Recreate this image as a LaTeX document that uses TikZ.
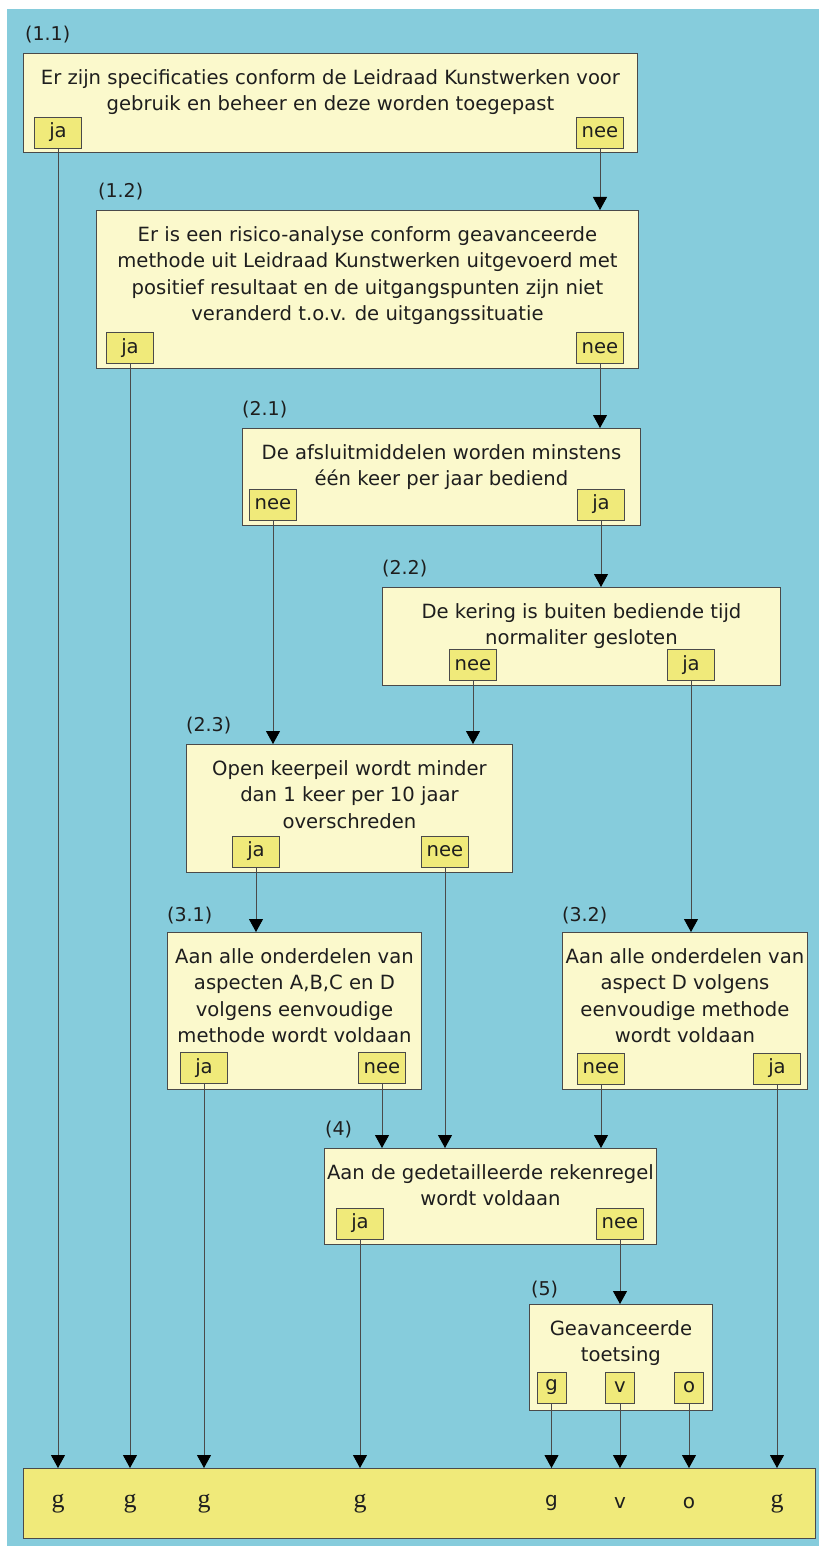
\documentclass[tikz,border=0pt]{standalone}
\usepackage{fontspec}
\setmainfont{DejaVu Sans}
\newfontfamily\serifletter{Liberation Serif}
\usetikzlibrary{arrows.meta,positioning}
\definecolor{achterkl}{HTML}{86CCDC}
\definecolor{vraagkl}{HTML}{FBF9CC}
\definecolor{antwkl}{HTML}{F0EA7A}
\definecolor{lijnkl}{HTML}{4A4A4A}
\definecolor{tekstkl}{HTML}{1E1E1E}

\begin{document}
\begin{tikzpicture}[x=1pt, y=1pt,
    vraag/.style={draw=lijnkl, line width=0.9pt, fill=vraagkl, anchor=north west, inner sep=0pt},
    tekst/.style={inner sep=0pt, align=center, text=tekstkl, font=\fontsize{19.6}{26.5}\selectfont},
    nr/.style={inner sep=0pt, text=tekstkl, font=\fontsize{19}{22}\selectfont},
    antw/.style={draw=lijnkl, line width=0.8pt, fill=antwkl, minimum width=47pt, minimum height=31pt, inner sep=0pt, text=tekstkl, font=\fontsize{19.6}{22}\selectfont},
    klein/.style={antw, minimum width=29pt},
    balk/.style={draw=lijnkl, line width=0.9pt, fill=antwkl, anchor=north west, inner sep=0pt},
    uitk/.style={inner sep=0pt, text=tekstkl, font=\serifletter\fontsize{26}{28}\selectfont},
    uitksans/.style={inner sep=0pt, text=tekstkl, font=\fontsize{20}{22}\selectfont},
    pijl/.style={draw=lijnkl, line width=0.9pt, -{Triangle[length=13pt, width=14pt, color=black]}}
]
\useasboundingbox (0,0) rectangle (819,-1546);
\fill[achterkl] (7,-9) rectangle (819,-1546);

\node[vraag, minimum width=614pt, minimum height=99pt] (v11) at (23,-53) {};
\node[nr, above right=10pt and 2pt of v11.north west] (n11) {(1.1)};
\node[tekst, below=16pt of v11.north] (t11) {Er zijn specificaties conform de Leidraad Kunstwerken voor\\gebruik en beheer en deze worden toegepast};
\node[antw] (ja11) at (58,-132.5) {ja};
\node[antw] (nee11) at (600,-132.5) {nee};

\node[vraag, minimum width=542pt, minimum height=158pt] (v12) at (96,-210) {};
\node[nr, above right=10pt and 2pt of v12.north west] (n12) {(1.2)};
\node[tekst, below=16pt of v12.north] (t12) {Er is een risico-analyse conform geavanceerde\\methode uit Leidraad Kunstwerken uitgevoerd met\\positief resultaat en de uitgangspunten zijn niet\\veranderd t.o.v. de uitgangssituatie};
\node[antw] (ja12) at (130,-348) {ja};
\node[antw] (nee12) at (600,-348) {nee};

\node[vraag, minimum width=398pt, minimum height=97pt] (v21) at (242,-428) {};
\node[nr, above right=10pt and 0pt of v21.north west] (n21) {(2.1)};
\node[tekst, below=16pt of v21.north] (t21) {De afsluitmiddelen worden minstens\\één keer per jaar bediend};
\node[antw] (nee21) at (273,-504.5) {nee};
\node[antw] (ja21) at (601,-504.5) {ja};

\node[vraag, minimum width=398pt, minimum height=98pt] (v22) at (382,-587) {};
\node[nr, above right=10pt and 0pt of v22.north west] (n22) {(2.2)};
\node[tekst, below=16pt of v22.north] (t22) {De kering is buiten bediende tijd\\normaliter gesloten};
\node[antw] (nee22) at (473,-665) {nee};
\node[antw] (ja22) at (691,-665) {ja};

\node[vraag, minimum width=326pt, minimum height=128pt] (v23) at (186,-744) {};
\node[nr, above right=10pt and 0pt of v23.north west] (n23) {(2.3)};
\node[tekst, below=16pt of v23.north] (t23) {Open keerpeil wordt minder\\dan 1 keer per 10 jaar\\overschreden};
\node[antw] (ja23) at (256,-851.5) {ja};
\node[antw] (nee23) at (445,-851.5) {nee};

\node[vraag, minimum width=254pt, minimum height=157pt] (v31) at (167,-932) {};
\node[nr, above right=8pt and 0pt of v31.north west] (n31) {(3.1)};
\node[tekst, below=16pt of v31.north] (t31) {Aan alle onderdelen van\\aspecten A,B,C en D\\volgens eenvoudige\\methode wordt voldaan};
\node[antw] (ja31) at (204,-1068) {ja};
\node[antw] (nee31) at (382,-1068) {nee};

\node[vraag, minimum width=245pt, minimum height=157pt] (v32) at (562,-932) {};
\node[nr, above right=8pt and 0pt of v32.north west] (n32) {(3.2)};
\node[tekst, below=16pt of v32.north] (t32) {Aan alle onderdelen van\\aspect D volgens\\eenvoudige methode\\wordt voldaan};
\node[antw] (nee32) at (601,-1068.5) {nee};
\node[antw] (ja32) at (777,-1068.5) {ja};

\node[vraag, minimum width=332pt, minimum height=96pt] (v4) at (324,-1148) {};
\node[nr, above right=10pt and 1pt of v4.north west] (n4) {(4)};
\node[tekst, below=16pt of v4.north] (t4) {Aan de gedetailleerde rekenregel\\wordt voldaan};
\node[antw] (ja4) at (360,-1223.5) {ja};
\node[antw] (nee4) at (620,-1223.5) {nee};

\node[vraag, minimum width=183pt, minimum height=106pt] (v5) at (529,-1304) {};
\node[nr, above right=6pt and 2pt of v5.north west] (n5) {(5)};
\node[tekst, below=16pt of v5.north] (t5) {Geavanceerde\\toetsing};
\node[klein] (g5) at (551.5,-1387.5) {g};
\node[klein] (v5b) at (620,-1387.5) {v};
\node[klein] (o5) at (689,-1387.5) {o};

\node[balk, minimum width=792pt, minimum height=70pt] (uitkomst) at (23,-1468) {};
\node[uitk] (r1) at (ja11 |- uitkomst) {g};
\node[uitk] (r2) at (ja12 |- uitkomst) {g};
\node[uitk] (r3) at (ja31 |- uitkomst) {g};
\node[uitk] (r4) at (ja4 |- uitkomst) {g};
\node[uitksans] (r5) at (g5 |- uitkomst) {g};
\node[uitksans] (r6) at (v5b |- uitkomst) {v};
\node[uitksans] (r7) at (o5 |- uitkomst) {o};
\node[uitk] (r8) at (ja32 |- uitkomst) {g};

\draw[pijl] (ja11.south) -- (ja11.south |- uitkomst.north);
\draw[pijl] (nee11.south) -- (nee11.south |- v12.north);
\draw[pijl] (ja12.south) -- (ja12.south |- uitkomst.north);
\draw[pijl] (nee12.south) -- (nee12.south |- v21.north);
\draw[pijl] (nee21.south) -- (nee21.south |- v23.north);
\draw[pijl] (ja21.south) -- (ja21.south |- v22.north);
\draw[pijl] (nee22.south) -- (nee22.south |- v23.north);
\draw[pijl] (ja22.south) -- (ja22.south |- v32.north);
\draw[pijl] (ja23.south) -- (ja23.south |- v31.north);
\draw[pijl] (nee23.south) -- (nee23.south |- v4.north);
\draw[pijl] (ja31.south) -- (ja31.south |- uitkomst.north);
\draw[pijl] (nee31.south) -- (nee31.south |- v4.north);
\draw[pijl] (nee32.south) -- (nee32.south |- v4.north);
\draw[pijl] (ja32.south) -- (ja32.south |- uitkomst.north);
\draw[pijl] (ja4.south) -- (ja4.south |- uitkomst.north);
\draw[pijl] (nee4.south) -- (nee4.south |- v5.north);
\draw[pijl] (g5.south) -- (g5.south |- uitkomst.north);
\draw[pijl] (v5b.south) -- (v5b.south |- uitkomst.north);
\draw[pijl] (o5.south) -- (o5.south |- uitkomst.north);
\end{tikzpicture}
\end{document}
